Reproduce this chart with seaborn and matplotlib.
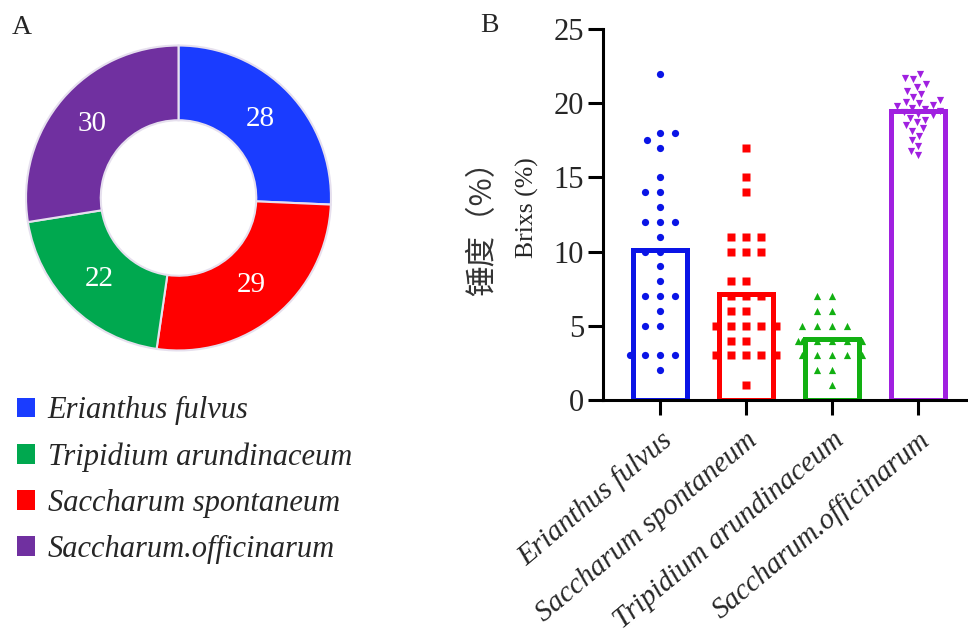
import numpy as np
import pandas as pd
import matplotlib
matplotlib.use("Agg")
import matplotlib.pyplot as plt
from matplotlib.patches import Patch
import seaborn as sns

# ---------------- data ----------------
pie_labels = ["Erianthus fulvus", "Saccharum spontaneum", "Tripidium arundinaceum", "Saccharum.officinarum"]
pie_counts = [28, 29, 22, 30]
pie_colors = ["#1a3cff", "#ff0000", "#00a84f", "#7030a0"]

legend_labels = ["Erianthus fulvus", "Tripidium arundinaceum", "Saccharum spontaneum", "Saccharum.officinarum"]
legend_colors = ["#1a3cff", "#00a84f", "#ff0000", "#7030a0"]

categories = ["Erianthus fulvus", "Saccharum spontaneum", "Tripidium arundinaceum", "Saccharum.officinarum"]
bar_colors = ["#0a14e6", "#ff0000", "#12b012", "#a020e0"]
markers = ["o", "s", "^", "v"]

brix_erianthus = [22, 18, 18, 17.5, 17, 15, 14, 14, 13, 12, 12, 12, 11, 10, 10,
                  9, 8, 7, 7, 7, 6, 5, 5, 3, 3, 3, 3, 2]
brix_spontaneum = [17, 15, 14, 11, 11, 11, 10, 10, 10, 8, 8, 7, 7, 7, 6, 6,
                   5, 5, 5, 5, 5, 4, 4, 3, 3, 3, 3, 3, 1]
brix_tripidium = [7, 7, 6, 6, 5, 5, 5, 5, 4, 4, 4, 4, 4, 4, 3, 3, 3, 3, 3, 2, 2, 1]
brix_officinarum = [22.0, 21.7, 21.6, 21.3, 21.1, 20.8, 20.6, 20.4, 20.2, 20.1,
                    20.0, 19.9, 19.8, 19.7, 19.6, 19.5, 19.4, 19.3, 19.2, 19.0,
                    18.9, 18.7, 18.5, 18.3, 18.1, 17.8, 17.5, 17.1, 16.8, 16.5]
yticks = [0, 5, 10, 15, 20, 25]

groups = [brix_erianthus, brix_spontaneum, brix_tripidium, brix_officinarum]
df = pd.DataFrame({
    "species": np.concatenate([[c] * len(g) for c, g in zip(categories, groups)]),
    "brix": np.concatenate(groups),
})

# ---------------- figure ----------------
sns.set_style("white")
serif = ["Liberation Serif", "DejaVu Serif"]
plt.rcParams["font.family"] = ["Liberation Serif", "Noto Sans CJK SC", "DejaVu Sans"]

W, H = 968, 638
fig = plt.figure(figsize=(W / 100, H / 100), dpi=100)

# ---- A: donut ----
cx, cy, r = 178.5, 198, 154
ax_pie = fig.add_axes([(cx - r) / W, 1 - (cy + r) / H, 2 * r / W, 2 * r / H])
total = sum(pie_counts)
wedges, texts, autotexts = ax_pie.pie(
    pie_counts, colors=pie_colors, startangle=90, counterclock=False,
    wedgeprops=dict(width=0.49, edgecolor="#e6e0ee", linewidth=1.5),
    autopct=lambda p: f"{round(p * total / 100)}", pctdistance=0.745,
    textprops=dict(color="white", fontsize=21, family=serif),
)
ax_pie.set_xlim(-1.01, 1.01)
ax_pie.set_ylim(-1.01, 1.01)

handles = [Patch(facecolor=c, edgecolor="none") for c in legend_colors]
fig.legend(handles, legend_labels, loc="upper left",
           bbox_to_anchor=(17 / W, 1 - 396 / H), frameon=False,
           prop=dict(family=serif, style="italic", size=22),
           handlelength=0.6, handleheight=0.6, handletextpad=0.4,
           labelspacing=0.56, borderpad=0, borderaxespad=0)

fig.text(22 / W, 1 - 28 / H, "A", ha="center", va="center", fontsize=20, family=serif)
fig.text(489 / W, 1 - 25 / H, "B", ha="center", va="center", fontsize=20, family=serif)

# ---- B: bars + points ----
ax = fig.add_axes([603 / W, 1 - 400 / H, (W - 603) / W, (400 - 29) / H])
sns.barplot(data=df, x="species", y="brix", hue="species", order=categories,
            hue_order=categories, palette=bar_colors, fill=False, errorbar=None,
            width=0.63, linewidth=3.6, legend=False, ax=ax)

extra = [5.0, 5.0, 5.0, 0.8]
for cat, col, mk, ex in zip(categories, bar_colors, markers, extra):
    sns.swarmplot(data=df[df["species"] == cat], x="species", y="brix",
                  order=categories, color=col, marker=mk, size=5.2,
                  linewidth=ex, edgecolor=(0, 0, 0, 0), ax=ax, zorder=3)

ax.set_xlim(-0.66, 3.58)
ax.set_ylim(0, 25)
ax.set_yticks(yticks)
ax.set_yticklabels([str(t) for t in yticks], fontsize=22, family=serif)
ax.set_xticks(range(len(categories)))
ax.set_xticklabels(categories, rotation=40, ha="right", rotation_mode="anchor",
                   fontsize=21, family=serif, style="italic")
ax.set_xlabel("")
ax.set_ylabel("Brixs (%)", fontsize=18.5, family=serif, va="center")
ax.yaxis.set_label_coords((527 - 603) / (W - 603), (400 - 208) / (400 - 29))
fig.text(483 / W, 1 - 221 / H, "锤度（%）", rotation=90, ha="center", va="center",
         fontsize=22, family=["Noto Sans CJK SC", "DejaVu Sans"], color="#333333")

for s in ["top", "right"]:
    ax.spines[s].set_visible(False)
for s in ["left", "bottom"]:
    ax.spines[s].set_linewidth(2.2)
    ax.spines[s].set_color("black")
ax.tick_params(axis="both", direction="out", length=10.5, width=2.2, color="black",
               left=True, bottom=True)
ax.tick_params(axis="y", pad=3)
ax.tick_params(axis="x", pad=9)
ax.set_facecolor("none")

fig.savefig("out.png", dpi=100, facecolor="white")
